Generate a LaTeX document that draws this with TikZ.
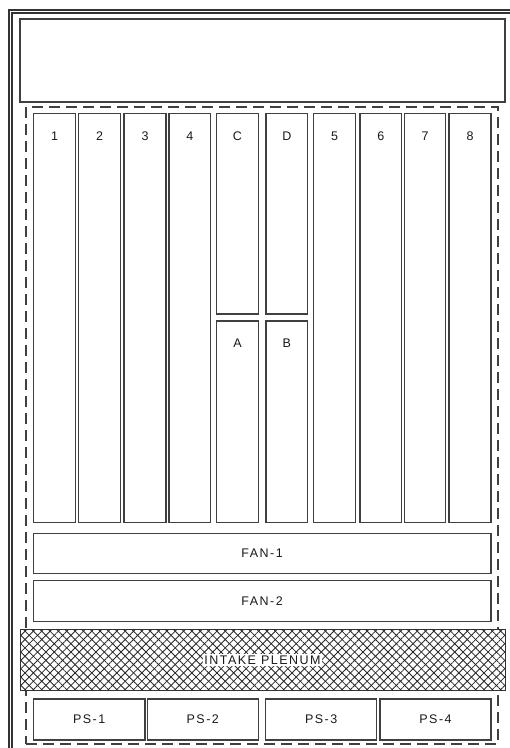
\documentclass[tikz,border=0pt]{standalone}
\usepackage{fontspec}
\setmainfont[LetterSpace=12]{Liberation Sans}
\usetikzlibrary{fit,patterns.meta}
\begin{document}
\begin{tikzpicture}[x=1pt,y=-1pt,
  lbltext/.style={font=\fontsize{12.5}{14}\selectfont, text=black!90},
  box/.style={draw=black!75, line width=1.3pt, inner sep=0pt, lbltext},
  slotlbl/.style={anchor=base, yshift=-27.5, inner sep=0pt, lbltext},
  frameline/.style={draw=black!80, line width=1.1pt},
  dashbox/.style={draw=black!75, line width=1.3pt, dash pattern=on 11pt off 6pt, inner sep=0pt},
  hatchA/.style={pattern={Lines[angle=45,distance=5.9pt,line width=0.8pt]}, pattern color=black!85},
  hatchB/.style={pattern={Lines[angle=-45,distance=5.9pt,line width=0.8pt]}, pattern color=black!85}
]
\useasboundingbox (0,0) rectangle (510,748);
\fill[white] (0,0) rectangle (510,748);
% outer frame (cut off at right and bottom)
\coordinate (fo1) at (9,748); \coordinate (fo2) at (9,10); \coordinate (fo3) at (510,10);
\coordinate (fi1) at (12,748); \coordinate (fi2) at (12,13); \coordinate (fi3) at (510,13);
\draw[frameline] (fo1) -- (fo2) -- (fo3);
\draw[frameline] (fi1) -- (fi2) -- (fi3);
% top box
\node[box, fit={(20,19) (505,102)}] (top) {};
% dashed enclosure
\node[dashbox, fit={(26,107) (498,744)}] (frame) {};
% slots
\node[box, fit={(33.3,113.3) (75.7,522.3)}, label={[slotlbl]north:1}] (s1) {};
\node[box, fit={(78.3,113.3) (120.7,522.3)}, label={[slotlbl]north:2}] (s2) {};
\node[box, fit={(124,113.3) (166,522.3)}, label={[slotlbl]north:3}] (s3) {};
\node[box, fit={(169,113.3) (210.7,522.3)}, label={[slotlbl]north:4}] (s4) {};
\node[box, fit={(216.7,113.3) (258.3,314)}, label={[slotlbl]north:C}] (sC) {};
\node[box, fit={(216.7,321) (258.3,522.3)}, label={[slotlbl]north:A}] (sA) {};
\node[box, fit={(266,113.3) (307.7,314)}, label={[slotlbl]north:D}] (sD) {};
\node[box, fit={(266,321) (307.7,522.3)}, label={[slotlbl]north:B}] (sB) {};
\node[box, fit={(313.3,113.3) (355.7,522.3)}, label={[slotlbl]north:5}] (s5) {};
\node[box, fit={(360,113.3) (401.7,522.3)}, label={[slotlbl]north:6}] (s6) {};
\node[box, fit={(404.3,113.3) (445.7,522.3)}, label={[slotlbl]north:7}] (s7) {};
\node[box, fit={(449,113.3) (491,522.3)}, label={[slotlbl]north:8}] (s8) {};
% fans
\node[box, fit={(33.3,533.3) (491,573.3)}] (fan1) {};
\node[lbltext] at (fan1.center) {FAN-1};
\node[box, fit={(33.3,580.7) (491,621.7)}] (fan2) {};
\node[lbltext] at (fan2.center) {FAN-2};
% intake plenum
\node[draw=black!80, line width=1pt, inner sep=0pt, preaction={fill=white}, hatchA, postaction={hatchB}, fit={(20,629.3) (505,690.7)}] (plenum) {};
\node[fill=white, inner sep=1.5pt, lbltext] (plenumlbl) at (plenum.center) {INTAKE PLENUM};
% power supplies
\node[box, fit={(33.3,699) (145,740)}] (ps1) {};
\node[lbltext] at (ps1.center) {PS-1};
\node[box, fit={(147.3,699) (258.3,740)}] (ps2) {};
\node[lbltext] at (ps2.center) {PS-2};
\node[box, fit={(265.7,699) (376.7,740)}] (ps3) {};
\node[lbltext] at (ps3.center) {PS-3};
\node[box, fit={(380,699) (491,740)}] (ps4) {};
\node[lbltext] at (ps4.center) {PS-4};
\end{tikzpicture}
\end{document}
